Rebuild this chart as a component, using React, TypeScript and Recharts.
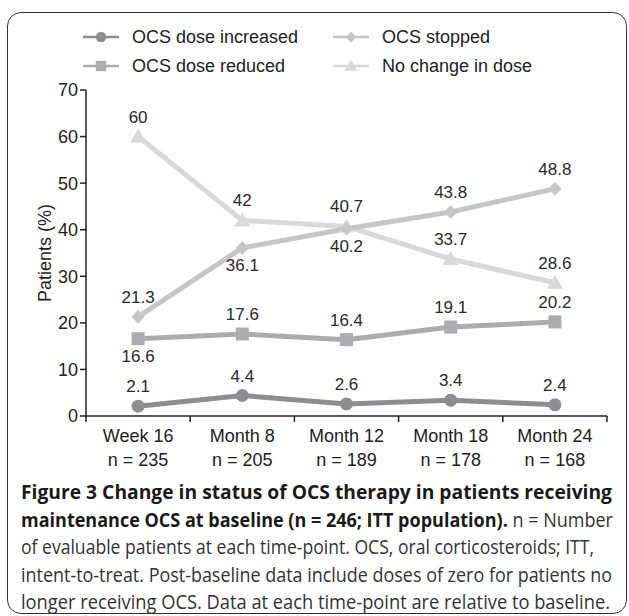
import React from 'react';
import { LineChart, Line, XAxis, YAxis, LabelList } from 'recharts';

const CATEGORIES = ['Week 16', 'Month 8', 'Month 12', 'Month 18', 'Month 24'];
const N_VALUES = [235, 205, 189, 178, 168];
const DOSE_INCREASED = [2.1, 4.4, 2.6, 3.4, 2.4];
const DOSE_REDUCED = [16.6, 17.6, 16.4, 19.1, 20.2];
const OCS_STOPPED = [21.3, 36.1, 40.2, 43.8, 48.8];
const NO_CHANGE = [60, 42, 40.7, 33.7, 28.6];
const Y_TICKS = [0, 10, 20, 30, 40, 50, 60, 70];

const data = CATEGORIES.map((name, i) => ({
  name,
  n: N_VALUES[i],
  increased: DOSE_INCREASED[i],
  reduced: DOSE_REDUCED[i],
  stopped: OCS_STOPPED[i],
  noChange: NO_CHANGE[i],
}));

const FONT = '"Liberation Sans", Arial, sans-serif';
const CAPTION_FONT = '"Open Sans", sans-serif';

const W = 629;
const H = 616;
const CHART_H = 480;
const MARGIN = { top: 90, right: 22, left: 0, bottom: 0 };
const Y_AXIS_W = 86;
const BAND = (W - MARGIN.right - Y_AXIS_W) / CATEGORIES.length;

// label placement per point: true = above the marker
const series = [
  { key: 'noChange', name: 'No change in dose', color: '#d9d9d9', shape: 'triangle', above: [true, true, true, true, true] },
  { key: 'stopped', name: 'OCS stopped', color: '#c6c6c6', shape: 'diamond', above: [true, false, false, true, true] },
  { key: 'reduced', name: 'OCS dose reduced', color: '#abacaf', shape: 'square', above: [false, true, true, true, true] },
  { key: 'increased', name: 'OCS dose increased', color: '#8e8e92', shape: 'circle', above: [true, true, true, true, true] },
];

const legendOrder = [
  { ...series[3], x: 83, y: 37 },
  { ...series[1], x: 333, y: 37 },
  { ...series[2], x: 83, y: 66 },
  { ...series[0], x: 333, y: 66 },
];

const Marker = ({ shape, cx, cy, color, s = 1 }: any) => {
  if (shape === 'circle') return <circle cx={cx} cy={cy} r={6.5 * s} fill={color} />;
  if (shape === 'square') return <rect x={cx - 6.5 * s} y={cy - 6.5 * s} width={13 * s} height={13 * s} fill={color} />;
  if (shape === 'diamond')
    return (
      <polygon
        points={`${cx},${cy - 7 * s} ${cx + 6.5 * s},${cy} ${cx},${cy + 7 * s} ${cx - 6.5 * s},${cy}`}
        fill={color}
      />
    );
  return (
    <polygon
      points={`${cx},${cy - 8 * s} ${cx + 8 * s},${cy + 6 * s} ${cx - 8 * s},${cy + 6 * s}`}
      fill={color}
    />
  );
};

const XTick = ({ x, y, payload, index }: any) => {
  const axisY = y - 8;
  return (
    <g>
      {index === 0 && <line x1={x - BAND / 2} x2={x - BAND / 2} y1={axisY} y2={axisY + 6} stroke="#222" strokeWidth={1.5} />}
      <line x1={x + BAND / 2} x2={x + BAND / 2} y1={axisY} y2={axisY + 6} stroke="#222" strokeWidth={1.5} />
      <text x={x} y={axisY + 26} textAnchor="middle" fontSize={18} fill="#222" fontFamily={FONT}>
        {payload.value}
      </text>
      <text x={x} y={axisY + 50} textAnchor="middle" fontSize={18} fill="#222" fontFamily={FONT}>
        {`n = ${N_VALUES[index]}`}
      </text>
    </g>
  );
};

const YLabel = ({ viewBox }: any) => {
  const cx = viewBox.x + 45;
  const cy = viewBox.y + viewBox.height / 2;
  return (
    <text x={cx} y={cy} transform={`rotate(-90 ${cx} ${cy})`} textAnchor="middle" dominantBaseline="central" fontSize={18} fill="#222" fontFamily={FONT}>
      Patients (%)
    </text>
  );
};

const captionLines = [
  { parts: [{ t: 'Figure 3 Change in status of OCS therapy in patients receiving', b: true }], len: 591 },
  { parts: [{ t: 'maintenance OCS at baseline (n = 246; ITT population).', b: true }, { t: ' n = Number', b: false }], len: 592 },
  { parts: [{ t: 'of evaluable patients at each time-point. OCS, oral corticosteroids; ITT,', b: false }], len: 573 },
  { parts: [{ t: 'intent-to-treat. Post-baseline data include doses of zero for patients no', b: false }], len: 591 },
  { parts: [{ t: 'longer receiving OCS. Data at each time-point are relative to baseline.', b: false }], len: 589 },
];

export default function App() {
  return (
    <div style={{ position: 'absolute', left: 0, top: 0, width: W, height: H, background: '#fff' }}>
      <div
        style={{
          position: 'absolute',
          left: 7,
          top: 12,
          width: 618,
          height: 600,
          border: '1.5px solid #333',
          borderRadius: 14,
        }}
      />
      <svg width={W} height={90} style={{ position: 'absolute', left: 0, top: 0 }}>
        {legendOrder.map((s) => (
          <g key={s.key}>
            <line x1={s.x} x2={s.x + 36} y1={s.y} y2={s.y} stroke={s.color} strokeWidth={2.5} />
            <Marker shape={s.shape} cx={s.x + 18} cy={s.y} color={s.color} s={0.8} />
            <text x={s.x + 49} y={s.y} dominantBaseline="central" fontSize={18} fill="#222" fontFamily={FONT}>
              {s.name}
            </text>
          </g>
        ))}
      </svg>
      <div style={{ position: 'absolute', left: 0, top: 0 }}>
        <LineChart width={W} height={CHART_H} data={data} margin={MARGIN}>
          <XAxis
            dataKey="name"
            height={64}
            padding={{ left: BAND / 2, right: BAND / 2 }}
            axisLine={{ stroke: '#222', strokeWidth: 1.5 }}
            tickLine={false}
            tick={<XTick />}
            interval={0}
          />
          <YAxis
            width={Y_AXIS_W}
            domain={[0, 70]}
            ticks={Y_TICKS}
            interval={0}
            axisLine={{ stroke: '#222', strokeWidth: 1.5 }}
            tickLine={{ stroke: '#222', strokeWidth: 1.5 }}
            tickSize={6}
            tick={{ fontSize: 18, fill: '#222', fontFamily: FONT }}
            label={<YLabel />}
          />
          {series.map((s) => (
            <Line
              key={s.key}
              dataKey={s.key}
              name={s.name}
              stroke={s.color}
              strokeWidth={5}
              isAnimationActive={false}
              dot={(p: any) => <Marker key={`${s.key}-${p.index}`} shape={s.shape} cx={p.cx} cy={p.cy} color={s.color} />}
              activeDot={false}
            >
              <LabelList
                dataKey={s.key}
                content={(p: any) => (
                  <text
                    x={p.x}
                    y={s.above[p.index] ? p.y - 14 : p.y + 23}
                    textAnchor="middle"
                    fontSize={17}
                    fill="#2a2a2a"
                    fontFamily={FONT}
                  >
                    {p.value}
                  </text>
                )}
              />
            </Line>
          ))}
        </LineChart>
      </div>
      <svg width={W} height={H - CHART_H} style={{ position: 'absolute', left: 0, top: CHART_H }}>
        {captionLines.map((line, i) => (
          <text
            key={i}
            x={21}
            y={499 - CHART_H + i * 27.5}
            fontSize={20}
            fontFamily={CAPTION_FONT}
            fill="#222"
            textLength={line.len}
            lengthAdjust="spacingAndGlyphs"
          >
            {line.parts.map((p, j) => (
              <tspan key={j} fontWeight={p.b ? 700 : 400} fill={p.b ? '#1a1a1a' : '#333'}>
                {p.t}
              </tspan>
            ))}
          </text>
        ))}
      </svg>
    </div>
  );
}
